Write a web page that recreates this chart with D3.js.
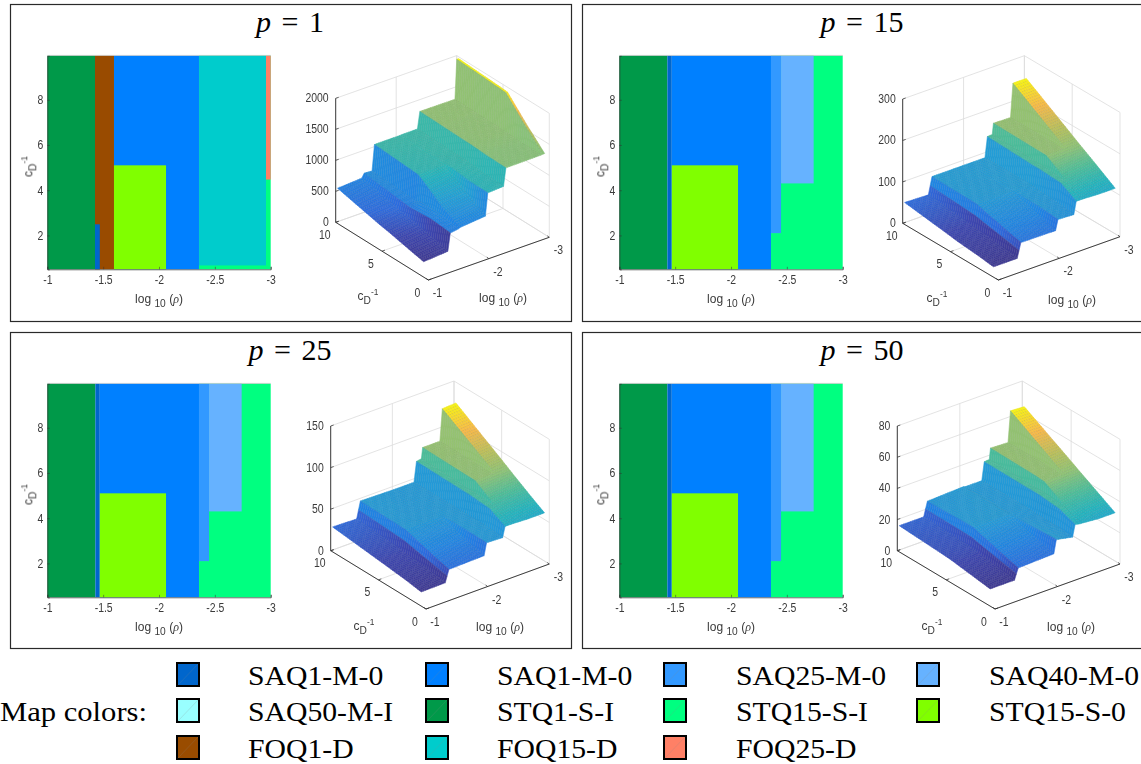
<!DOCTYPE html>
<html><head><meta charset="utf-8">
<style>html,body{margin:0;padding:0;background:#fff;overflow:hidden}svg{display:block}</style>
<script src="https://cdn.jsdelivr.net/npm/d3@7"></script>
</head><body><svg id="c" width="1141" height="764"></svg>
<script>
// ---------- data ----------
const colorNames = ["SAQ1-M-0","SAQ1-M-0b","SAQ25-M-0","SAQ40-M-0","SAQ50-M-I","STQ1-S-I","STQ15-S-I","STQ15-S-0","FOQ1-D","FOQ15-D","FOQ25-D"];
const colorValues = ["#0066cc","#0080ff","#3399ff","#66b2ff","#99ffff","#009949","#00ff80","#80ff00","#994c00","#00cccc","#ff8066"];
const legendLabels = ["SAQ1-M-0","SAQ1-M-0","SAQ25-M-0","SAQ40-M-0","SAQ50-M-I","STQ1-S-I","STQ15-S-I","STQ15-S-0","FOQ1-D","FOQ15-D","FOQ25-D"];
const legendKeys = ["SAQ1-M-0","SAQ1-M-0b","SAQ25-M-0","SAQ40-M-0","SAQ50-M-I","STQ1-S-I","STQ15-S-I","STQ15-S-0","FOQ1-D","FOQ15-D","FOQ25-D"];
const titles = ["1","15","25","50"];
// map rectangles: rhoStart, rhoEnd, cStart, cEnd, regime (later ones lie on top)
const map1 = [[-1,-1.427,.5,9.95,"STQ1-S-I"],[-1.427,-1.597,.5,9.95,"FOQ1-D"],[-1.427,-1.47,.5,2.49,"SAQ1-M-0"],
  [-1.597,-2.358,.5,9.95,"SAQ1-M-0b"],[-1.597,-2.063,.5,5.1,"STQ15-S-0"],
  [-2.358,-3,.5,9.95,"STQ15-S-I"],[-2.358,-2.958,.67,9.95,"FOQ15-D"],[-2.958,-3,4.47,9.95,"FOQ25-D"]];
const mapRest = [[-1,-1.43,.5,9.95,"STQ1-S-I"],[-1.43,-1.47,.5,9.95,"SAQ1-M-0"],[-1.47,-2.358,.5,9.95,"SAQ1-M-0b"],[-1.47,-2.063,.5,5.1,"STQ15-S-0"],
  [-2.358,-3,.5,9.95,"STQ15-S-I"],[-2.358,-2.448,2.1,9.95,"SAQ25-M-0"],[-2.448,-2.74,4.3,9.95,"SAQ40-M-0"]];
// surfaces: rho knots, c rows, z per row
const rho1 = [-1,-1.40,-1.44,-1.57,-1.61,-2.02,-2.06,-2.32,-2.36,-2.94,-2.97,-3];
const rows1 = [.5,2.5,4.5,5.1,9.8];
const z1 = [[248,279,561,580,595,632,994,1010,1294,1300,1305,1305],
 [315,350,590,640,740,800,1000,1015,1300,1300,1600,1600],
 [385,415,570,640,960,990,1040,1045,1318,1320,1921,1921],
 [400,430,570,600,1016,1030,1040,1045,1318,1320,1930,1930],
 [568,592,660,650,1063,1065,1067,1069,1339,1334,1970,1970]];
const rho2 = [-1,-1.39,-1.45,-2.02,-2.06,-2.32,-2.36,-2.44,-2.46,-2.74,-2.78,-3];
const rows2 = [.5,2.1,4.3,5.1,9.8];
const z2 = [[25,25,60,59,84,82,112,112,112,110,110,110],
 [30,30,70,70,88,86,134,134,134,134,134,134],
 [35,36,84,84,90,90,137,137,166,166,166,166],
 [38,38,90,91,92,92,137,138,166,166,178,178],
 [53,51,92,92,92,92,141,142,168,167,248,248]];
const z3 = [[17,17.5,32,33,47.5,46.6,59,59,59,58,58,58],
 [20,20,37,37,48,48,69,69,69,69,69,69],
 [23,23,45,45,48,48,71,71,85,85,85,85],
 [24,24,48,48,48,48,71,71,85,85,91,91],
 [30,29,49,48,48,48,72,73,86,86,124,125]];
const z4 = [[11,11,18,18.8,27.4,25.2,32.7,32,32,31,31,31],
 [12.5,12.5,21,21,27,26,36.7,36.7,36.7,36.7,36.7,36.7],
 [14.5,14.5,25,25,26,26,38,38,44.6,44.6,44.6,44.6],
 [15,15,27,27,26.5,26.5,38,38,45,45,47.5,47.5],
 [16.8,16.8,26,27,26.6,26.6,38.2,38.5,45.5,45,64.8,64.3]];
const zTicks1 = [0,500,1000,1500,2000];
const zTicks2 = [0,100,200,300];
const zTicks3 = [0,50,100,150];
const zTicks4 = [0,20,40,60,80];
const mapXTicks = [-1,-1.5,-2,-2.5,-3];
const mapYTicks = [2,4,6,8];
const rhoTicks3d = [-1,-2,-3];
const cTicks3d = [0,5,10];

// ---------- layout ----------
const parulaStops = [0,.06,.12,.2,.3,.42,.52,.62,.72,.85,1];
const parula = [[.24,.22,.58],[.23,.27,.70],[.17,.42,.88],[.12,.52,.90],[.13,.62,.85],[.13,.71,.75],[.3,.75,.6],[.56,.77,.46],[.72,.76,.36],[.98,.73,.28],[.976,.983,.054]]
  .map(a=>d3.rgb(a[0]*255,a[1]*255,a[2]*255));
const parulaScale = d3.scaleLinear().domain(parulaStops).range(parula).interpolate(d3.interpolateRgb);
const colorOf = d3.scaleOrdinal(colorNames,colorValues);
const panels = [
 {box:[10,4,561,317],title:[290,32],titleText:titles[0],mapBox:[47.3,55.7,270.7,269.3],map:map1,rho:rho1,rows:rows1,z:z1,zTicks:zTicks1,
  corner0:[428.3,280],cornerRho:[549.3,237.3],cornerC:[335.7,222.3],zh:124,labelC:[368,300],labelRho:[503,302]},
 {box:[582,4,561,317],title:[862,32],titleText:titles[1],mapBox:[619.3,55.7,842.7,269.3],map:mapRest,rho:rho2,rows:rows2,z:z2,zTicks:zTicks2,
  corner0:[998.3,280],cornerRho:[1120,236.7],cornerC:[902.7,223.3],zh:124.3,labelC:[937,302],labelRho:[1072,304]},
 {box:[10,332,561,316],title:[290,360],titleText:titles[2],mapBox:[47.3,383.7,270.7,597.3],map:mapRest,rho:rho2,rows:rows2,z:z3,zTicks:zTicks3,
  corner0:[426,609],cornerRho:[549.3,564],cornerC:[330.7,550.7],zh:124.7,labelC:[364,630],labelRho:[500,631]},
 {box:[582,332,561,316],title:[862,360],titleText:titles[3],mapBox:[619.3,383.7,842.7,597.3],map:mapRest,rho:rho2,rows:rows2,z:z4,zTicks:zTicks4,
  corner0:[995,609],cornerRho:[1120,564],cornerC:[897.3,550.7],zh:124.7,labelC:[932,630],labelRho:[1071,631]}
];
const svg = d3.select("#c");
const defs=svg.append("defs");
defs.append("filter").attr("id","soft").attr("x","-5%").attr("y","-5%").attr("width","110%").attr("height","110%")
  .append("feGaussianBlur").attr("stdDeviation",0.35);
defs.append("filter").attr("id","softT").attr("x","-20%").attr("y","-20%").attr("width","140%").attr("height","140%")
  .append("feGaussianBlur").attr("stdDeviation",0.3);
const sans = "'Liberation Sans',Arial,sans-serif", serif = "'Liberation Serif',serif";
const tickCol = "#3a3a3a", tickFS=12;
const squeeze=function(){const w=this.getComputedTextLength();d3.select(this).attr("textLength",w*.87).attr("lengthAdjust","spacingAndGlyphs").attr("filter","url(#softT)");};

function addRhoLabel(g,x,y){
  const fs=tickFS;
  const t=g.append("text").attr("x",x).attr("y",y).attr("text-anchor","middle").attr("font-family",sans).attr("font-size",fs).attr("fill",tickCol);
  t.append("tspan").text("log ");
  t.append("tspan").attr("dy",4).attr("font-size",fs*.85).text("10");
  t.append("tspan").attr("dy",-4).text(" (");
  t.append("tspan").attr("font-family",serif).attr("font-style","italic").text("ρ");
  t.append("tspan").text(")");
  t.attr("filter","url(#softT)");
}
function addCLabel(g,x,y,rot){
  const fs=tickFS;
  const t=g.append("text").attr("text-anchor","middle").attr("font-family",sans).attr("font-size",fs).attr("fill",tickCol)
    .attr("transform",`translate(${x},${y})`+(rot?" rotate(-90)":""));
  t.append("tspan").text("c");
  t.append("tspan").attr("dy",4).attr("font-size",fs*.85).text("D");
  t.append("tspan").attr("dy",-9).attr("font-size",fs*.7).text("-1");
  t.attr("filter","url(#softT)");
}

panels.forEach(p=>{
  const g = svg.append("g");
  g.append("rect").attr("x",p.box[0]+.5).attr("y",p.box[1]+.5).attr("width",p.box[2]).attr("height",p.box[3])
    .attr("fill","#fff").attr("stroke","#2a2a2a").attr("stroke-width",1.2);
  // title
  const tt=g.append("text").attr("x",p.title[0]).attr("y",p.title[1]).attr("text-anchor","middle").attr("font-family",serif).attr("font-size",30).attr("word-spacing",3).attr("fill","#000");
  tt.append("tspan").attr("font-style","italic").text("p");
  tt.append("tspan").text(" = "+p.titleText);

  // ---- 2-D map ----
  const [mx0,my0,mx1,my1]=p.mapBox;
  const x = d3.scaleLinear().domain([-1,-3]).range([mx0,mx1]);
  const y = d3.scaleLinear().domain([.5,9.95]).range([my1,my0]);
  const m = g.append("g").attr("filter","url(#soft)");
  m.selectAll("rect").data(p.map).join("rect")
    .attr("x",d=>x(d[0])).attr("width",d=>x(d[1])-x(d[0]))
    .attr("y",d=>y(d[3])).attr("height",d=>y(d[2])-y(d[3]))
    .attr("fill",d=>colorOf(d[4]));
  const ax = g.append("g").attr("transform",`translate(0,${my1})`)
    .call(d3.axisBottom(x).tickValues(mapXTicks).tickFormat(String).tickSize(-2.5).tickPadding(6));
  const ay = g.append("g").attr("transform",`translate(${mx0},0)`)
    .call(d3.axisLeft(y).tickValues(mapYTicks).tickFormat(String).tickSize(-2.5).tickPadding(4));
  [ax,ay].forEach(a=>{
    a.selectAll("text").attr("font-family",sans).attr("font-size",tickFS).attr("fill",tickCol).each(squeeze);
    a.selectAll("line").attr("stroke","#333").attr("stroke-width",.5);
    a.select(".domain").attr("stroke","#333").attr("stroke-width",.7);
  });
  g.append("line").attr("x1",mx0).attr("x2",mx1).attr("y1",my0-.3).attr("y2",my0-.3).attr("stroke","#bbb").attr("stroke-width",.6);
  addRhoLabel(g,(mx0+mx1)/2,my1+34);
  addCLabel(g,mx0-15,(my0+my1)/2+4,true);

  // ---- 3-D surface ----
  const zMax = p.zTicks[p.zTicks.length-1];
  const tS = d3.scaleLinear().domain([-1,-3]).range([0,1]);
  const sS = d3.scaleLinear().domain([0,10]).range([0,1]);
  const hS = d3.scaleLinear().domain([0,zMax]).range([0,p.zh]);
  const c0=p.corner0,ur=[p.cornerRho[0]-c0[0],p.cornerRho[1]-c0[1]],uc=[p.cornerC[0]-c0[0],p.cornerC[1]-c0[1]];
  const proj=(rho,c,z)=>[c0[0]+ur[0]*tS(rho)+uc[0]*sS(c), c0[1]+ur[1]*tS(rho)+uc[1]*sS(c)-hS(z)];
  const grid = g.append("g").attr("fill","none").attr("stroke","#dcdcdc").attr("stroke-width",.8);
  const seg=(a,b)=>grid.append("line").attr("x1",a[0]).attr("y1",a[1]).attr("x2",b[0]).attr("y2",b[1]);
  p.zTicks.forEach(v=>{ seg(proj(-1,10,v),proj(-3,10,v)); seg(proj(-3,10,v),proj(-3,0,v)); });
  rhoTicks3d.forEach(r=>{ seg(proj(r,10,0),proj(r,10,zMax)); seg(proj(r,0,0),proj(r,10,0)); });
  cTicks3d.forEach(c=>{ seg(proj(-3,c,0),proj(-3,c,zMax)); seg(proj(-1,c,0),proj(-3,c,0)); });

  // mesh refined between the read knots
  const refine=(arr,step)=>{const o=[];arr.forEach((v,i)=>{if(i){const a=arr[i-1],n=Math.max(1,Math.round(Math.abs(v-a)/step));for(let k=0;k<n;k++)o.push(a+(v-a)*k/n);}});o.push(arr[arr.length-1]);return o;};
  const rhoMesh=refine(p.rho,.035), cMesh=refine(p.rows,.2);
  const zAt=(rho,c)=>{
    let j=d3.bisectRight(p.rows,c)-1; j=Math.min(Math.max(j,0),p.rows.length-2);
    let i=0; while(i<p.rho.length-2 && rho<p.rho[i+1]) i++;
    const fc=(c-p.rows[j])/(p.rows[j+1]-p.rows[j]), fr=(rho-p.rho[i])/(p.rho[i+1]-p.rho[i]);
    const a=p.z[j][i]+(p.z[j][i+1]-p.z[j][i])*fr, b=p.z[j+1][i]+(p.z[j+1][i+1]-p.z[j+1][i])*fr;
    return a+(b-a)*fc;
  };
  const zAll=p.z.flat(), zLo=d3.min(zAll), zHi=d3.max(zAll);
  const colS=d3.scaleLinear().domain([zLo,zHi]).range([0,1]).clamp(true);
  const quads=[];
  for(let j=cMesh.length-2;j>=0;j--) for(let i=rhoMesh.length-2;i>=0;i--){
    const r0=rhoMesh[i],r1=rhoMesh[i+1],c0_=cMesh[j],c1=cMesh[j+1];
    const zs=[zAt(r0,c0_),zAt(r1,c0_),zAt(r1,c1),zAt(r0,c1)];
    // faceted colour taken from the corner vertex, as a surf plot does
    quads.push({pts:[proj(r0,c0_,zs[0]),proj(r1,c0_,zs[1]),proj(r1,c1,zs[2]),proj(r0,c1,zs[3])],z:zs[0]});
  }
  const line=d3.line();
  const sf=g.append("g").attr("filter","url(#soft)");
  sf.selectAll("path").data(quads).join("path")
    .attr("d",d=>line(d.pts)+"Z")
    .attr("fill",d=>parulaScale(colS(d.z)))
    .attr("stroke",d=>parulaScale(colS(d.z)))
    .attr("stroke-width",.5);
  // faint grey mesh on top of the facets
  sf.append("g").selectAll("path").data(quads).join("path")
    .attr("d",d=>line(d.pts)+"Z").attr("fill","none").attr("stroke","#808080").attr("stroke-opacity",.22).attr("stroke-width",.3);

  // axes
  const axc="#2a2a2a";
  const A=proj(-1,0,0),B=proj(-3,0,0),C=proj(-1,10,0),D=proj(-1,10,zMax);
  [[A,B],[A,C],[C,D]].forEach(s=>g.append("line").attr("x1",s[0][0]).attr("y1",s[0][1]).attr("x2",s[1][0]).attr("y2",s[1][1]).attr("stroke",axc).attr("stroke-width",.9));
  const lab=(xx,yy,s,anchor)=>g.append("text").attr("x",xx).attr("y",yy).attr("text-anchor",anchor||"middle").attr("font-family",sans).attr("font-size",tickFS).attr("fill",tickCol).text(s).each(squeeze);
  p.zTicks.forEach(v=>{const q=proj(-1,10,v);
    g.append("line").attr("x1",q[0]).attr("y1",q[1]).attr("x2",q[0]+3).attr("y2",q[1]-1).attr("stroke",axc).attr("stroke-width",.7);
    lab(q[0]-7,q[1]+4,String(v),"end");});
  rhoTicks3d.forEach(r=>{const q=proj(r,0,0);
    g.append("line").attr("x1",q[0]).attr("y1",q[1]).attr("x2",q[0]-2).attr("y2",q[1]-1.5).attr("stroke",axc).attr("stroke-width",.7);
    lab(q[0]+9,q[1]+17,String(r));});
  cTicks3d.forEach(c=>{const q=proj(-1,c,0);
    g.append("line").attr("x1",q[0]).attr("y1",q[1]).attr("x2",q[0]+3).attr("y2",q[1]-1).attr("stroke",axc).attr("stroke-width",.7);
    lab(q[0]-11,q[1]+16.5,String(c));});
  addRhoLabel(g,p.labelRho[0],p.labelRho[1]);
  addCLabel(g,p.labelC[0],p.labelC[1],false);
});

// ---------- legend ----------
const lg=svg.append("g");
const colX=d3.scaleOrdinal([0,1,2,3],[176,425,663,916]);
const textX=d3.scaleOrdinal([0,1,2,3],[248,497,736,989]);
const rowY=d3.scaleOrdinal([0,1,2],[662,698,735]);
const fit=function(){const w=this.getComputedTextLength();d3.select(this).attr("textLength",w*1.1).attr("lengthAdjust","spacingAndGlyphs");};
lg.append("text").attr("x",0).attr("y",721).attr("font-family",serif).attr("font-size",27).attr("fill","#000").text("Map colors:")
  .attr("textLength",147).attr("lengthAdjust","spacingAndGlyphs");
legendLabels.forEach((s,i)=>{
  const col=i%4,row=Math.floor(i/4),x0=colX(col),y0=rowY(row),w=22,h=23;
  lg.append("rect").attr("x",x0+1).attr("y",y0+1).attr("width",w).attr("height",h).attr("fill",colorOf(legendKeys[i])).attr("stroke","#000").attr("stroke-width",2);
  lg.append("line").attr("x1",x0+2).attr("y1",y0+h).attr("x2",x0+w).attr("y2",y0+2).attr("stroke","#888").attr("stroke-opacity",.35).attr("stroke-width",.6);
  lg.append("text").attr("x",textX(col)).attr("y",y0+23).attr("font-family",serif).attr("font-size",27).attr("fill","#000").text(s).each(fit);
});
</script></body></html>
